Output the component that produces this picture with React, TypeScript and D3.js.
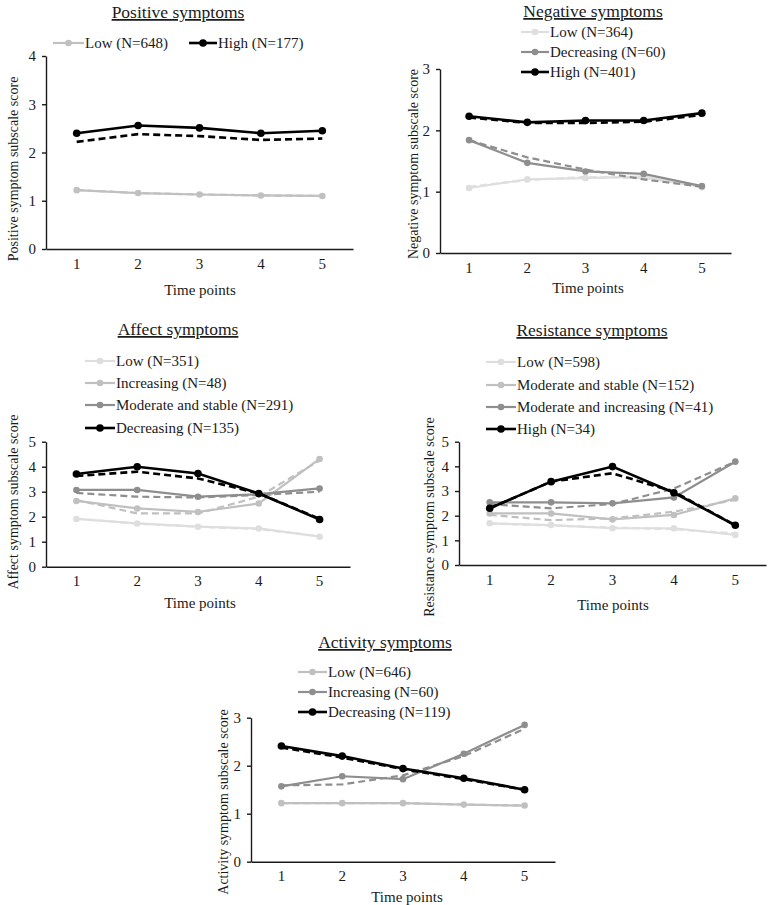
import React, { useRef, useEffect } from 'react';
import { select, scaleLinear, scaleBand, axisBottom, axisLeft, line, range } from "d3";

const timePoints = ["1", "2", "3", "4", "5"];

// Positive symptoms
const positiveGroups = ["Low (N=648)", "High (N=177)"];
const positiveLow = [1.22, 1.16, 1.13, 1.11, 1.10];
const positiveLowFit = [1.22, 1.16, 1.13, 1.11, 1.10];
const positiveHigh = [2.40, 2.56, 2.51, 2.40, 2.45];
const positiveHighFit = [2.22, 2.38, 2.34, 2.26, 2.29];

// Negative symptoms
const negativeGroups = ["Low (N=364)", "Decreasing (N=60)", "High (N=401)"];
const negativeLow = [1.06, 1.20, 1.22, 1.25, 1.07];
const negativeLowFit = [1.08, 1.19, 1.24, 1.22, 1.09];
const negativeDecreasing = [1.84, 1.47, 1.33, 1.29, 1.09];
const negativeDecreasingFit = [1.84, 1.56, 1.36, 1.20, 1.08];
const negativeHigh = [2.23, 2.13, 2.16, 2.16, 2.28];
const negativeHighFit = [2.21, 2.12, 2.12, 2.14, 2.25];

// Affect symptoms
const affectGroups = ["Low (N=351)", "Increasing (N=48)", "Moderate and stable (N=291)", "Decreasing (N=135)"];
const affectLow = [1.91, 1.73, 1.60, 1.53, 1.20];
const affectLowFit = [1.92, 1.72, 1.60, 1.50, 1.22];
const affectIncreasing = [2.63, 2.33, 2.19, 2.53, 4.31];
const affectIncreasingFit = [2.67, 2.13, 2.13, 2.80, 4.25];
const affectModerate = [3.07, 3.07, 2.80, 2.90, 3.13];
const affectModerateFit = [2.95, 2.80, 2.77, 2.87, 3.00];
const affectDecreasing = [3.71, 4.00, 3.73, 2.93, 1.89];
const affectDecreasingFit = [3.63, 3.80, 3.53, 2.93, 1.92];

// Resistance symptoms
const resistanceGroups = ["Low (N=598)", "Moderate and stable (N=152)", "Moderate and increasing (N=41)", "High (N=34)"];
const resistanceLow = [1.69, 1.62, 1.49, 1.49, 1.22];
const resistanceLowFit = [1.68, 1.60, 1.52, 1.45, 1.28];
const resistanceStable = [2.09, 2.09, 1.85, 2.03, 2.70];
const resistanceStableFit = [2.03, 1.82, 1.89, 2.16, 2.64];
const resistanceIncreasing = [2.54, 2.54, 2.50, 2.74, 4.19];
const resistanceIncreasingFit = [2.47, 2.30, 2.47, 3.10, 4.19];
const resistanceHigh = [2.30, 3.38, 3.99, 2.93, 1.61];
const resistanceHighFit = [2.30, 3.38, 3.72, 2.97, 1.61];

// Activity symptoms
const activityGroups = ["Low (N=646)", "Increasing (N=60)", "Decreasing (N=119)"];
const activityLow = [1.22, 1.22, 1.22, 1.19, 1.17];
const activityLowFit = [1.22, 1.22, 1.22, 1.19, 1.17];
const activityIncreasing = [1.57, 1.78, 1.72, 2.25, 2.85];
const activityIncreasingFit = [1.59, 1.61, 1.80, 2.20, 2.77];
const activityDecreasing = [2.41, 2.20, 1.94, 1.74, 1.50];
const activityDecreasingFit = [2.38, 2.17, 1.93, 1.72, 1.50];

const FONT = "Liberation Serif";
const INK = "#1a1a1a";
const BLACK = "#000000";
const MID = "#8e8e8e";
const LIGHT = "#c0c0c0";
const PALE = "#dedede";

type Series = { obs: number[], fit: number[], color: string };

const panels = [
  {
    title: "Positive symptoms", titleX: 178, titleY: 18,
    x0: 46, x1: 353, yTop: 56, yBottom: 249, yMax: 4,
    yLabel: "Positive symptom subscale score", yLabelX: 13, yLabelY: 169,
    xLabelX: 200, xLabelY: 295,
    groups: positiveGroups,
    legendX: [53, 189], legendY: [43, 43], legendLen: [31, 28],
    series: [
      { obs: positiveLow, fit: positiveLowFit, color: LIGHT },
      { obs: positiveHigh, fit: positiveHighFit, color: BLACK },
    ] as Series[],
  },
  {
    title: "Negative symptoms", titleX: 593, titleY: 17,
    x0: 440, x1: 731, yTop: 69, yBottom: 253, yMax: 3,
    yLabel: "Negative symptom subscale score", yLabelX: 413, yLabelY: 164,
    xLabelX: 588, xLabelY: 293,
    groups: negativeGroups,
    legendX: [521, 521, 521], legendY: [32, 52, 72], legendLen: [28, 28, 28],
    series: [
      { obs: negativeLow, fit: negativeLowFit, color: PALE },
      { obs: negativeDecreasing, fit: negativeDecreasingFit, color: MID },
      { obs: negativeHigh, fit: negativeHighFit, color: BLACK },
    ] as Series[],
  },
  {
    title: "Affect symptoms", titleX: 178, titleY: 335,
    x0: 46, x1: 350, yTop: 441.7, yBottom: 566.7, yMax: 5,
    yLabel: "Affect symptom subscale score", yLabelX: 13, yLabelY: 502,
    xLabelX: 200, xLabelY: 608,
    groups: affectGroups,
    legendX: [85, 85, 85, 85], legendY: [361, 383, 405, 428], legendLen: [30, 30, 30, 30],
    series: [
      { obs: affectLow, fit: affectLowFit, color: PALE },
      { obs: affectIncreasing, fit: affectIncreasingFit, color: LIGHT },
      { obs: affectModerate, fit: affectModerateFit, color: MID },
      { obs: affectDecreasing, fit: affectDecreasingFit, color: BLACK },
    ] as Series[],
  },
  {
    title: "Resistance symptoms", titleX: 592, titleY: 336,
    x0: 459, x1: 766, yTop: 441.7, yBottom: 565, yMax: 5,
    yLabel: "Resistance symptom subscale score", yLabelX: 429, yLabelY: 517,
    xLabelX: 613, xLabelY: 610,
    groups: resistanceGroups,
    legendX: [486, 486, 486, 486], legendY: [362, 385, 407, 429], legendLen: [30, 30, 30, 30],
    series: [
      { obs: resistanceLow, fit: resistanceLowFit, color: PALE },
      { obs: resistanceStable, fit: resistanceStableFit, color: LIGHT },
      { obs: resistanceIncreasing, fit: resistanceIncreasingFit, color: MID },
      { obs: resistanceHigh, fit: resistanceHighFit, color: BLACK },
    ] as Series[],
  },
  {
    title: "Activity symptoms", titleX: 385, titleY: 648,
    x0: 251, x1: 555, yTop: 717.7, yBottom: 861.7, yMax: 3,
    yLabel: "Activity symptom subscale score", yLabelX: 223, yLabelY: 802,
    xLabelX: 407, xLabelY: 902,
    groups: activityGroups,
    legendX: [298, 298, 298], legendY: [672, 692, 712], legendLen: [29, 29, 29],
    series: [
      { obs: activityLow, fit: activityLowFit, color: LIGHT },
      { obs: activityIncreasing, fit: activityIncreasingFit, color: MID },
      { obs: activityDecreasing, fit: activityDecreasingFit, color: BLACK },
    ] as Series[],
  },
];

function App() {
  const rootRef = useRef<SVGSVGElement>(null);
  const width = 772;
  const height = 905;

  useEffect(() => {
    const root = select(rootRef.current);
    root.selectAll("*").remove();

    panels.forEach(p => {
      const g = root.append("g");
      const xScale = scaleBand().domain(timePoints).range([p.x0, p.x1]);
      const yScale = scaleLinear().domain([0, p.yMax]).range([p.yBottom, p.yTop]);
      const cx = (i: number) => (xScale(timePoints[i]) as number) + xScale.bandwidth() / 2;

      const yAxis = axisLeft(yScale).tickValues(range(0, p.yMax + 1))
        .tickFormat(d => String(d)).tickSize(4).tickSizeOuter(0).tickPadding(6);
      const xAxis = axisBottom(xScale).tickSize(0).tickSizeOuter(0).tickPadding(9);

      [g.append('g').attr("transform", `translate(${p.x0},0)`).call(yAxis),
       g.append('g').attr("transform", `translate(0,${p.yBottom})`).call(xAxis)].forEach(a => {
        a.attr("font-family", FONT).attr("font-size", 15);
        a.selectAll("path, line").attr("stroke", INK).attr("stroke-width", 1.4);
        a.selectAll("text").attr("fill", INK);
      });

      const lineGen = line<number>().x((_, i) => cx(i)).y(d => yScale(d));

      p.series.forEach(s => {
        const w = s.color === BLACK ? 2.6 : 2.2;
        g.append("path").attr("d", lineGen(s.obs)).attr("fill", "none")
          .attr("stroke", s.color).attr("stroke-width", w);
        g.selectAll(null).data(s.obs).enter().append("circle")
          .attr("cx", (_, i) => cx(i)).attr("cy", d => yScale(d))
          .attr("r", s.color === BLACK ? 3.8 : 3.3).attr("fill", s.color);
        g.append("path").attr("d", lineGen(s.fit)).attr("fill", "none")
          .attr("stroke", s.color).attr("stroke-width", w).attr("stroke-dasharray", "7,4");
      });

      const txt = g.append("g").attr("font-family", FONT).attr("fill", INK);

      // title
      txt.append("text").attr("x", p.titleX).attr("y", p.titleY).attr("text-anchor", "middle")
        .attr("font-size", 17.5).attr("text-decoration", "underline").text(p.title);

      // legend
      p.groups.forEach((name, i) => {
        const s = p.series[i];
        const lx = p.legendX[i], ly = p.legendY[i], len = p.legendLen[i];
        g.append("line").attr("x1", lx).attr("x2", lx + len).attr("y1", ly).attr("y2", ly)
          .attr("stroke", s.color).attr("stroke-width", s.color === BLACK ? 2.6 : 2.2);
        g.append("circle").attr("cx", lx + len / 2).attr("cy", ly)
          .attr("r", s.color === BLACK ? 3.8 : 3.3).attr("fill", s.color);
        txt.append("text").attr("x", lx + len + 1).attr("y", ly).attr("dy", "0.33em")
          .attr("font-size", 15).text(name);
      });

      // axis titles
      txt.append("text").attr("transform", `translate(${p.yLabelX},${p.yLabelY}) rotate(-90)`)
        .attr("text-anchor", "middle").attr("dy", "0.35em")
        .attr("font-size", 14).text(p.yLabel);
      txt.append("text").attr("x", p.xLabelX).attr("y", p.xLabelY).attr("text-anchor", "middle")
        .attr("font-size", 15).text("Time points");
    });
  }, []);

  return (
    <div style={{ position: 'absolute', left: 0, top: 0, width, height, background: '#fff' }}>
      <svg width={width} height={height} ref={rootRef} style={{ display: 'block' }}></svg>
    </div>
  );
}

export default App;
